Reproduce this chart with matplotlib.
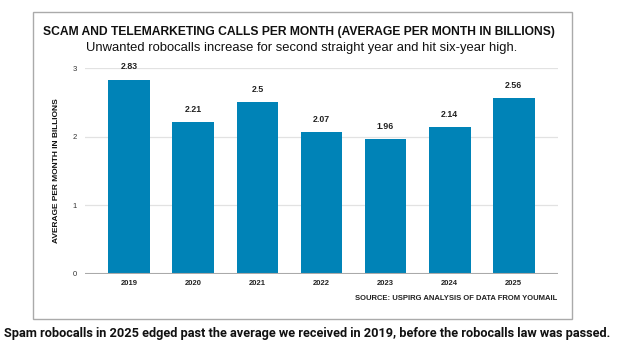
import matplotlib
matplotlib.use("Agg")
import matplotlib.pyplot as plt
from matplotlib.patches import Rectangle

years = ["2019", "2020", "2021", "2022", "2023", "2024", "2025"]
values = [2.83, 2.21, 2.5, 2.07, 1.96, 2.14, 2.56]
value_labels = ["2.83", "2.21", "2.5", "2.07", "1.96", "2.14", "2.56"]
yticks = [0, 1, 2, 3]

plt.rcParams['font.family'] = ['Liberation Sans', 'DejaVu Sans']

fig = plt.figure(figsize=(6.27, 3.52), dpi=100)
fig.patch.set_facecolor('white')

# chart frame
fig.patches.append(Rectangle((33/627, 1-319/352), (572-33)/627, (319-12)/352,
                             transform=fig.transFigure, fill=False,
                             edgecolor='#aaaaaa', linewidth=1.0))

ax = fig.add_axes([85/627, 1-274/352, (558-85)/627, (274-68)/352])
x = range(len(years))
ax.bar(x, values, width=0.65, color='#0083b7', zorder=3)
for xi, v, lab in zip(x, values, value_labels):
    ax.text(xi, v + 0.12, lab, ha='center', va='bottom', fontsize=6.3,
            fontweight='bold', color='#222222')

ax.set_xlim(-0.69, 6.69)
ax.set_ylim(0, 3)
ax.set_yticks(yticks)
ax.set_yticklabels([str(t) for t in yticks], fontsize=5.5, color='#333333')
ax.set_xticks(list(x))
ax.set_xticklabels(years, fontsize=5.5, fontweight='bold', color='#222222')
ax.tick_params(axis='both', length=0, pad=4)
ax.tick_params(axis='y', pad=6)
for s in ax.spines.values():
    s.set_visible(False)
ax.grid(axis='y', color='#e2e2e2', linewidth=0.9, zorder=0)
ax.axhline(0, color='#aaaaaa', linewidth=1.5, zorder=4)
ax.set_ylabel("AVERAGE PER MONTH IN BILLIONS", fontsize=6.0, fontweight='bold',
              color='#111111', labelpad=9)

fig.text(299/627, 1-32/352, "SCAM AND TELEMARKETING CALLS PER MONTH (AVERAGE PER MONTH IN BILLIONS)",
         ha='center', va='center', fontsize=8.75, fontweight='bold', color='#111111')
fig.text(302/627, 1-48/352, "Unwanted robocalls increase for second straight year and hit six-year high.",
         ha='center', va='center', fontsize=9.35, color='#111111')
fig.text(557/627, 1-299/352, "SOURCE: USPIRG ANALYSIS OF DATA FROM YOUMAIL",
         ha='right', va='center', fontsize=5.5, fontweight='bold', color='#222222')
fig.text(4/627, 1-333/352,
         "Spam robocalls in 2025 edged past the average we received in 2019, before the robocalls law was passed.",
         ha='left', va='center', fontsize=9.2, fontweight='bold', color='#111111',
         family=['Liberation Sans Narrow', 'Roboto', 'DejaVu Sans'])

fig.savefig("out.png", dpi=100)
